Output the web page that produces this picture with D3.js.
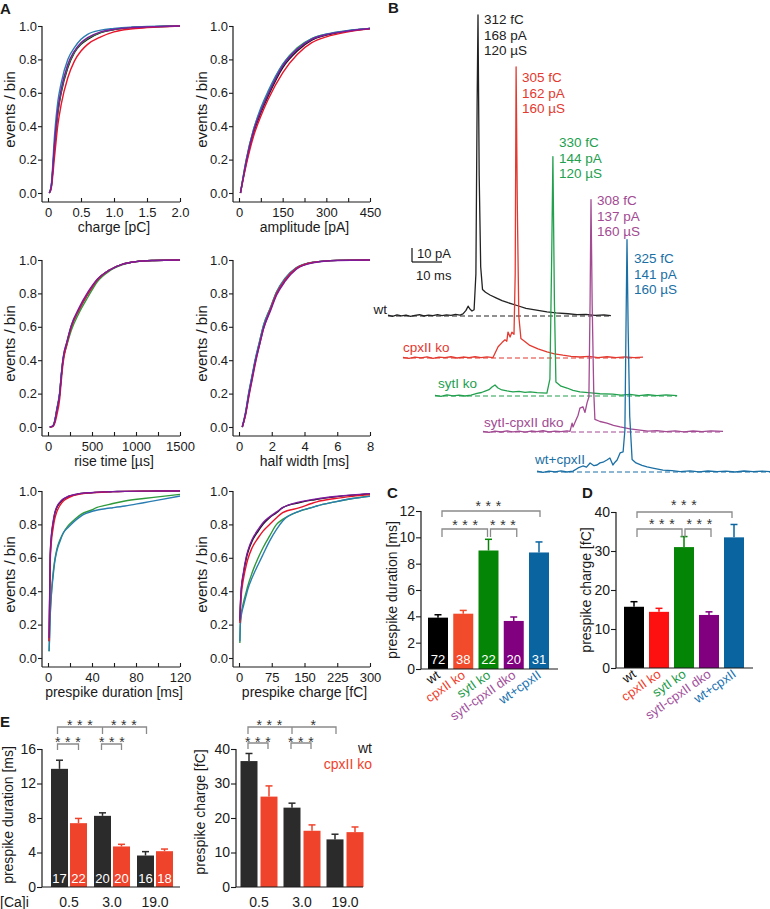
<!DOCTYPE html>
<html><head><meta charset="utf-8">
<script src="https://cdn.jsdelivr.net/npm/d3@7"></script>
<style>
body{margin:0;background:#fff}
svg{display:block}
</style>
</head><body>
<svg id="fig" width="770" height="909"></svg>
<script>
// ===================== DATA =====================
const genotypes = ["wt", "cpxII ko", "sytI ko", "sytI-cpxII dko", "wt+cpxII"];

// ---- Panel A: cumulative distributions (rows follow genotypes order) ----
const chargeX = [0.02, 0.05, 0.1, 0.15, 0.2, 0.3, 0.4, 0.5, 0.6, 0.8, 1.0, 1.25, 1.5, 2.0];
const chargeCdf = [
  [0, 0.04, 0.28, 0.48, 0.60, 0.75, 0.84, 0.89, 0.92, 0.96, 0.978, 0.99, 0.995, 1.0],
  [0, 0.03, 0.22, 0.41, 0.53, 0.69, 0.79, 0.85, 0.89, 0.935, 0.965, 0.982, 0.99, 1.0],
  [0, 0.04, 0.29, 0.49, 0.61, 0.76, 0.845, 0.895, 0.925, 0.962, 0.979, 0.99, 0.995, 1.0],
  [0, 0.04, 0.30, 0.50, 0.62, 0.77, 0.85, 0.90, 0.93, 0.965, 0.98, 0.99, 0.995, 1.0],
  [0, 0.05, 0.35, 0.55, 0.66, 0.80, 0.87, 0.92, 0.95, 0.975, 0.985, 0.993, 0.997, 1.0]
];
const ampX = [5, 25, 50, 75, 100, 150, 200, 250, 300, 375, 450];
const ampCdf = [
  [0, 0.18, 0.36, 0.48, 0.58, 0.75, 0.85, 0.915, 0.945, 0.97, 0.985],
  [0, 0.17, 0.34, 0.46, 0.56, 0.72, 0.83, 0.90, 0.935, 0.965, 0.983],
  [0, 0.20, 0.38, 0.50, 0.60, 0.77, 0.87, 0.925, 0.95, 0.972, 0.986],
  [0, 0.19, 0.37, 0.49, 0.59, 0.76, 0.86, 0.92, 0.948, 0.97, 0.985],
  [0, 0.20, 0.38, 0.51, 0.61, 0.77, 0.865, 0.925, 0.952, 0.973, 0.985]
];
const riseX = [20, 55, 75, 100, 133, 150, 171, 215, 266, 350, 456, 560, 700, 850, 1000, 1200, 1500];
const riseCdf = [
  [0, 0.005, 0.03, 0.10, 0.20, 0.30, 0.40, 0.50, 0.60, 0.70, 0.80, 0.88, 0.94, 0.975, 0.99, 0.997, 1.0],
  [0, 0.003, 0.02, 0.07, 0.17, 0.27, 0.38, 0.50, 0.60, 0.70, 0.80, 0.88, 0.94, 0.975, 0.99, 0.997, 1.0],
  [0, 0.005, 0.03, 0.10, 0.20, 0.30, 0.40, 0.49, 0.58, 0.68, 0.78, 0.87, 0.935, 0.972, 0.99, 0.997, 1.0],
  [0, 0.005, 0.03, 0.10, 0.20, 0.30, 0.41, 0.51, 0.61, 0.71, 0.81, 0.885, 0.94, 0.975, 0.99, 0.997, 1.0],
  [0, 0.006, 0.035, 0.11, 0.21, 0.31, 0.41, 0.51, 0.61, 0.70, 0.80, 0.88, 0.94, 0.975, 0.99, 0.997, 1.0]
];
const halfX = [0.2, 0.4, 0.6, 0.8, 1.0, 1.25, 1.5, 1.9, 2.3, 2.8, 3.5, 4.5, 6, 8];
const halfCdf = [
  [0, 0.08, 0.20, 0.30, 0.40, 0.50, 0.60, 0.70, 0.80, 0.88, 0.95, 0.985, 0.998, 1.0],
  [0, 0.07, 0.18, 0.28, 0.38, 0.49, 0.59, 0.70, 0.80, 0.88, 0.95, 0.985, 0.998, 1.0],
  [0, 0.08, 0.20, 0.30, 0.40, 0.51, 0.61, 0.71, 0.81, 0.885, 0.952, 0.986, 0.998, 1.0],
  [0, 0.08, 0.19, 0.29, 0.39, 0.49, 0.59, 0.69, 0.79, 0.87, 0.945, 0.983, 0.997, 1.0],
  [0, 0.09, 0.21, 0.31, 0.41, 0.51, 0.61, 0.71, 0.81, 0.89, 0.955, 0.987, 0.998, 1.0]
];
const durX = [1, 1.5, 2, 3, 4.5, 6, 8, 11, 14, 18, 21, 26, 30, 41, 44, 53, 59, 70, 87, 100, 120];
const durCdf = [
  [0.10, 0.35, 0.60, 0.72, 0.80, 0.86, 0.90, 0.93, 0.95, 0.965, 0.972, 0.98, 0.985, 0.99, 0.992, 0.995, 0.996, 0.998, 0.999, 1.0, 1.0],
  [0.10, 0.33, 0.57, 0.69, 0.77, 0.83, 0.875, 0.915, 0.94, 0.958, 0.967, 0.977, 0.983, 0.99, 0.991, 0.994, 0.996, 0.998, 0.999, 1.0, 1.0],
  [0.04, 0.15, 0.26, 0.38, 0.50, 0.58, 0.65, 0.71, 0.75, 0.79, 0.81, 0.84, 0.86, 0.89, 0.90, 0.915, 0.925, 0.94, 0.955, 0.965, 0.98],
  [0.12, 0.37, 0.61, 0.73, 0.81, 0.865, 0.905, 0.935, 0.953, 0.967, 0.974, 0.981, 0.986, 0.991, 0.993, 0.995, 0.996, 0.998, 0.999, 1.0, 1.0],
  [0.04, 0.14, 0.25, 0.37, 0.48, 0.57, 0.64, 0.70, 0.75, 0.78, 0.80, 0.83, 0.85, 0.88, 0.885, 0.895, 0.90, 0.91, 0.93, 0.945, 0.97]
];
const pchX = [2, 3, 5, 10, 17, 20, 30, 44, 55, 70, 86, 100, 139, 166, 178, 220, 260, 300];
const pchCdf = [
  [0.22, 0.30, 0.40, 0.50, 0.60, 0.63, 0.70, 0.76, 0.80, 0.84, 0.87, 0.90, 0.93, 0.945, 0.95, 0.965, 0.975, 0.982],
  [0.21, 0.28, 0.37, 0.47, 0.56, 0.59, 0.66, 0.72, 0.76, 0.80, 0.84, 0.87, 0.90, 0.925, 0.935, 0.955, 0.968, 0.978],
  [0.09, 0.20, 0.26, 0.33, 0.40, 0.43, 0.51, 0.60, 0.66, 0.73, 0.80, 0.83, 0.88, 0.90, 0.91, 0.935, 0.955, 0.97],
  [0.23, 0.31, 0.41, 0.51, 0.61, 0.64, 0.71, 0.77, 0.81, 0.845, 0.875, 0.90, 0.935, 0.948, 0.953, 0.967, 0.977, 0.984],
  [0.10, 0.20, 0.25, 0.31, 0.38, 0.41, 0.48, 0.56, 0.62, 0.70, 0.77, 0.82, 0.88, 0.90, 0.91, 0.935, 0.955, 0.968]
];
const cdfYTicks = [0, 0.2, 0.4, 0.6, 0.8, 1.0];
const chargeTicks = [0, 0.5, 1.0, 1.5, 2.0];
const ampTicks = [0, 75, 150, 225, 300, 375, 450], ampLabels = [0, 150, 300, 450];
const riseTicks = [0, 250, 500, 750, 1000, 1250, 1500], riseLabels = [0, 500, 1000, 1500];
const halfTicks = [0, 2, 4, 6, 8];
const durTicks = [0, 20, 40, 60, 80, 100, 120], durLabels = [0, 40, 80, 120];
const pchTicks = [0, 75, 150, 225, 300];

// ---- Panel B: example traces, [time ms, current pA] ----
const traceWt = [[0,0.6],[1.5,-0.2],[3,0.8],[4.5,0.1],[6,0.7],[7.5,-0.3],[9,0.5],[10.5,0.9],[12,0],[13.5,0.6],[15,0.3],[16.5,1.0],[18,0.2],[19.5,0.8],[21,0.4],[22.5,1.1],[24,0.6],[25,1.5],[26,4],[26.7,7],[27.3,5],[28,3.6],[28.7,4.5],[29.3,30],[29.7,150],[30,215],[30.4,100],[30.9,35],[31.5,19],[32.5,17],[34,15],[36,13],[38,11],[40,9.5],[43,7.5],[46,5.5],[50,4],[53,3],[56,2.2],[60,1.6],[63,1],[66,1.2],[69,0.5],[72,0.8],[74.3,0.3]];
const traceCpx = [[0,0.5],[2,-0.3],[4,0.7],[6,0.1],[8,0.8],[10,-0.2],[12,0.6],[14,0.2],[16,0.9],[18,0],[20,0.7],[22,0.3],[24,0.9],[26,0.2],[28,0.8],[30,0.3],[31.7,8],[33,11],[34,13],[34.6,12],[35,18.5],[35.7,15],[36.3,18.5],[37,17],[37.4,60],[37.7,208],[38.1,110],[38.6,30],[39.3,14],[40.5,12],[42.3,9],[45,6.5],[48,4.3],[50.5,3],[53.3,2],[56,1.2],[59,0.7],[62,1.1],[65,0.3],[68,0.9],[71,0.2],[74,0.8],[77,0.3],[80,0.6]];
const traceSyt = [[0,0.5],[2,-0.2],[4,0.8],[6,0.1],[8,0.6],[10,0],[12,0.7],[14,1.8],[15.5,2.5],[16.7,3.5],[18,4.5],[19,6.4],[20,7.9],[21,5.7],[22.3,4.3],[24,3.6],[26,2.9],[28,3.3],[30,2.6],[31.7,2.9],[34,2.4],[37.3,2.1],[38.3,12],[38.9,100],[39.3,171],[39.8,68],[40.3,10],[42,7],[44,5.7],[46,4],[48.3,2.9],[52,2.2],[55,1.6],[59.3,1.4],[62,0.6],[65,1.1],[68,0.3],[71,0.9],[74,0.2],[77,0.8],[80.7,0.3]];
const traceDko = [[0,0.5],[2,-0.2],[4,0.7],[6,0],[8,0.8],[10,0.1],[12,0.6],[14,-0.1],[16,0.7],[18,0.2],[20,0.9],[22,0.1],[24,0.6],[26,0.2],[28,0.8],[29,0.5],[29.7,6.4],[30,3.6],[31,8.6],[31.7,12],[32.3,17],[33.3,18],[34,14],[34.7,21],[35.3,25],[35.7,94],[36,166],[36.4,90],[36.9,30],[37.3,9],[39,7.5],[41.3,6.4],[43.5,4.8],[45.7,3.6],[49,2.3],[52.3,1.4],[55,0.6],[58,1],[61,0.3],[64,0.8],[67,0.1],[70,0.7],[73,0.2],[76,0.8],[80,0.4]];
const traceWtCpx = [[0,0.6],[2,-0.2],[4,0.7],[6,0.1],[8,0.8],[10,0],[12,0.6],[13.7,2.9],[15.3,4.3],[16.5,3.5],[17.7,6.4],[19,4.5],[20,5],[21,6.5],[22,7],[23.3,8.6],[24.3,10],[25.3,5],[26,7],[26.7,8.6],[27.7,13.6],[28.7,14.3],[29.3,30],[29.7,110],[30,166],[30.4,100],[30.9,40],[31.7,9],[33,6.5],[35,4.8],[36.7,3.6],[39,2.6],[42,1.4],[45,1],[47.7,0.3],[51,0.8],[54,0.1],[57,0.7],[60,0.2],[63,0.6],[66,0],[69,0.7],[72,0.2],[75,0.6],[77.7,0.3]];
const spikeInfo = [
  ["312 fC", "168 pA", "120 µS"],
  ["305 fC", "162 pA", "160 µS"],
  ["330 fC", "144 pA", "120 µS"],
  ["308 fC", "137 pA", "160 µS"],
  ["325 fC", "141 pA", "160 µS"]
];

// ---- Panels C, D ----
const durMean = [3.9, 4.2, 9.0, 3.65, 8.85];
const durSem = [0.22, 0.25, 0.85, 0.3, 0.8];
const chgMean = [15.7, 14.4, 31.0, 13.6, 33.5];
const chgSem = [1.3, 0.9, 2.7, 0.8, 3.3];
const cellCounts = [72, 38, 22, 20, 31];
const cTicks = [0, 2, 4, 6, 8, 10, 12];
const dTicks = [0, 10, 20, 30, 40];

// ---- Panel E ----
const caLevels = ["0.5", "3.0", "19.0"];
const eDurWt = [13.7, 8.25, 3.65], eDurWtSem = [1.0, 0.35, 0.45];
const eDurKo = [7.4, 4.7, 4.15], eDurKoSem = [0.55, 0.25, 0.25];
const eChgWt = [36.5, 23.0, 13.8], eChgWtSem = [2.2, 1.3, 1.5];
const eChgKo = [26.2, 16.3, 15.9], eChgKoSem = [3.1, 1.7, 1.5];
const eCountWt = [17, 20, 16], eCountKo = [22, 20, 18];
const eDurTicks = [0, 4, 8, 12, 16];
const eChgTicks = [0, 10, 20, 30, 40];

// ===================== DRAWING =====================
const FONT = '"Liberation Sans", Arial, Helvetica, sans-serif';
const svg = d3.select("#fig").attr("font-family", FONT);
const AX = "#1a1a1a";

function txt(x, y, s, size, opts = {}) {
  const t = svg.append("text").attr("x", x).attr("y", y).text(s)
    .attr("font-size", size).attr("fill", opts.fill || "#1a1a1a")
    .attr("text-anchor", opts.anchor || "start");
  if (opts.weight) t.attr("font-weight", opts.weight);
  if (opts.rotate !== undefined) t.attr("transform", `rotate(${opts.rotate},${x},${y})`);
  return t;
}
function vline(x, y1, y2, col = AX, w = 1.2) {
  svg.append("line").attr("x1", x).attr("x2", x).attr("y1", y1).attr("y2", y2)
    .attr("stroke", col).attr("stroke-width", w);
}
function hline(x1, x2, y, col = AX, w = 1.2) {
  svg.append("line").attr("x1", x1).attr("x2", x2).attr("y1", y).attr("y2", y)
    .attr("stroke", col).attr("stroke-width", w);
}
function styleAxis(g, size) {
  g.attr("font-size", size).attr("font-family", FONT);
  g.select(".domain").remove();
  g.selectAll(".tick line").attr("stroke", AX).attr("stroke-width", 1.1);
  g.selectAll(".tick text").attr("fill", "#1a1a1a");
}

// ---------- Panel A ----------
const cdfColors = ["#151515", "#e8142a", "#2f9a3a", "#7d1b9c", "#2a7db2"];
const drawOrder = [0, 2, 4, 1, 3];
const cols = [{ ax: 42, x0: 48, x1: 180, title: 15 }, { ax: 233, x0: 239, x1: 370, title: 207 }];
const rows = [{ y1: 26, y0: 193, axY: 202 }, { y1: 260, y0: 427, axY: 436 }, { y1: 491, y0: 658, axY: 667 }];
const fmt1 = d3.format(".1f");
const cdfPanels = [
  { c: 0, r: 0, max: 2, ticks: chargeTicks, labels: chargeTicks, fmt: d => d === 0 ? "0" : fmt1(d), title: "charge [pC]", xs: chargeX, ys: chargeCdf },
  { c: 1, r: 0, max: 450, ticks: ampTicks, labels: ampLabels, fmt: d3.format("d"), title: "amplitude [pA]", xs: ampX, ys: ampCdf },
  { c: 0, r: 1, max: 1500, ticks: riseTicks, labels: riseLabels, fmt: d3.format("d"), title: "rise time [µs]", xs: riseX, ys: riseCdf },
  { c: 1, r: 1, max: 8, ticks: halfTicks, labels: halfTicks, fmt: d3.format("d"), title: "half width [ms]", xs: halfX, ys: halfCdf },
  { c: 0, r: 2, max: 120, ticks: durTicks, labels: durLabels, fmt: d3.format("d"), title: "prespike duration [ms]", xs: durX, ys: durCdf },
  { c: 1, r: 2, max: 300, ticks: pchTicks, labels: pchTicks, fmt: d3.format("d"), title: "prespike charge [fC]", xs: pchX, ys: pchCdf }
];
cdfPanels.forEach(p => {
  const c = cols[p.c], r = rows[p.r];
  const x = d3.scaleLinear().domain([0, p.max]).range([c.x0, c.x1]);
  const y = d3.scaleLinear().domain([0, 1]).range([r.y0, r.y1]);
  const line = d3.line().x(d => x(d[0])).y(d => y(d[1])).curve(d3.curveMonotoneX);
  drawOrder.forEach(k => {
    const pts = p.xs.map((v, i) => [v, p.ys[k][i]]);
    svg.append("path").attr("d", line(pts)).attr("fill", "none")
      .attr("stroke", cdfColors[k]).attr("stroke-width", 1.4);
  });
  const ya = svg.append("g").attr("transform", `translate(${c.ax},0)`)
    .call(d3.axisLeft(y).tickValues(cdfYTicks).tickFormat(fmt1).tickSize(4).tickPadding(1));
  styleAxis(ya, 13);
  const xa = svg.append("g").attr("transform", `translate(0,${r.axY})`)
    .call(d3.axisBottom(x).tickValues(p.ticks).tickFormat(d => p.labels.includes(d) ? p.fmt(d) : "")
      .tickSizeInner(-4).tickSizeOuter(0).tickPadding(6));
  styleAxis(xa, 13);
  vline(c.ax, r.y1, r.axY);
  hline(c.ax, c.x1, r.axY);
  txt((c.x0 + c.x1) / 2, r.axY + 30, p.title, 14, { anchor: "middle" });
  txt(c.title, (r.y0 + r.y1) / 2, "events / bin", 15, { anchor: "middle", rotate: -90 });
});
txt(0, 14, "A", 15, { weight: "bold" });

// ---------- Panel B ----------
txt(388, 13, "B", 15, { weight: "bold" });
const traceColors = ["#222222", "#e3392f", "#22a04e", "#a24a92", "#1a6fa5"];
const traceData = [traceWt, traceCpx, traceSyt, traceDko, traceWtCpx];
const traceOrigin = [[388, 316], [403, 358], [435, 396], [483, 432], [537, 472]];
const nameAnchor = [[387, 314, "end"], [403, 352, "start"], [438, 388, "start"], [484, 427, "start"], [535, 464, "start"]];
const infoPos = [[484, 24], [522, 82], [559, 147], [597, 205], [634, 263]];
traceData.forEach((tr, k) => {
  const [ox, oy] = traceOrigin[k];
  const x = d3.scaleLinear().domain([0, 10]).range([ox, ox + 30]);
  const y = d3.scaleLinear().domain([0, 10]).range([oy, oy - 14]);
  const tEnd = tr[tr.length - 1][0];
  svg.append("line").attr("x1", x(0)).attr("x2", x(tEnd)).attr("y1", y(0)).attr("y2", y(0))
    .attr("stroke", traceColors[k]).attr("stroke-width", 1.2).attr("stroke-dasharray", "5,3");
  svg.append("path").attr("d", d3.line().x(d => x(d[0])).y(d => y(d[1]))(tr))
    .attr("fill", "none").attr("stroke", traceColors[k]).attr("stroke-width", 1.3)
    .attr("stroke-linejoin", "round");
  const [nx, ny, na] = nameAnchor[k];
  txt(nx, ny, genotypes[k], 13.5, { fill: traceColors[k], anchor: na });
  spikeInfo[k].forEach((s, i) => txt(infoPos[k][0], infoPos[k][1] + i * 15.5, s, 13.5, { fill: traceColors[k] }));
});
// scale bar (same scale as traces)
{
  const x = d3.scaleLinear().domain([0, 10]).range([412, 442]);
  const y = d3.scaleLinear().domain([0, 10]).range([262, 248]);
  vline(x(0), y(0), y(10), "#111", 1.2);
  hline(x(0), x(10), y(0), "#111", 1.2);
  txt(417, 258, "10 pA", 13, {});
  txt(416, 280, "10 ms", 13, {});
}

// ---------- Bars helper ----------
function errBar(cx, top, errTop, col, cap) {
  vline(cx, top, errTop, col, 1.5);
  hline(cx - cap, cx + cap, errTop, col, 1.5);
}
function bracket(x1, x2, y, drop, col = "#8a8a8a") {
  svg.append("path").attr("d", `M${x1},${y + drop}V${y}H${x2}V${y + drop}`)
    .attr("fill", "none").attr("stroke", col).attr("stroke-width", 1.3);
}
function stars(x, cy, s) {
  txt(x, cy + 8, s, 14, { anchor: "middle", fill: "#333" }).attr("letter-spacing", 0.4);
}

// ---------- Panels C & D ----------
const barColorsC = ["#000000", "#f14b2c", "#058505", "#800080", "#0a64a0"];
const barColorsD = ["#000000", "#ff1010", "#058505", "#800080", "#0a64a0"];
const labelColors = ["#111111", "#ef402c", "#1c9a48", "#a2509c", "#1a72b0"];
function genoBars(o) {
  const x = d3.scalePoint().domain(genotypes).range([o.c0, o.c1]);
  const y = d3.scaleLinear().domain([0, o.max]).range([o.y0, o.y1]);
  genotypes.forEach((g, i) => {
    const cx = x(g);
    errBar(cx, y(o.mean[i]), y(o.mean[i] + o.sem[i]), o.colors[i], 3.5);
    svg.append("rect").attr("x", cx - 10).attr("width", 20)
      .attr("y", y(o.mean[i])).attr("height", y(0) - y(o.mean[i])).attr("fill", o.colors[i]);
    if (o.counts) txt(cx, o.y0 - 5, o.counts[i], 13, { anchor: "middle", fill: "#fff" });
    txt(cx + 3, o.y0 + 8, g, 13, { anchor: "end", fill: labelColors[i], rotate: -35 });
  });
  const ya = svg.append("g").attr("transform", `translate(${o.ax},0)`)
    .call(d3.axisLeft(y).tickValues(o.ticks).tickSize(5).tickPadding(1));
  styleAxis(ya, 14);
  vline(o.ax, o.y1, o.y0);
  hline(o.ax, o.xEnd, o.y0);
  txt(o.titleX, (o.y0 + o.y1) / 2, o.title, 14, { anchor: "middle", rotate: -90 });
  return x;
}
const xC = genoBars({ c0: 438, c1: 539, y0: 669, y1: 511, max: 12, mean: durMean, sem: durSem, colors: barColorsC,
  counts: cellCounts, ticks: cTicks, ax: 421, xEnd: 558, titleX: 397, title: "prespike duration [ms]" });
const xD = genoBars({ c0: 634, c1: 734, y0: 668, y1: 512, max: 40, mean: chgMean, sem: chgSem, colors: barColorsD,
  counts: null, ticks: dTicks, ax: 616, xEnd: 753, titleX: 591, title: "prespike charge [fC]" });
txt(387, 498, "C", 15, { weight: "bold" });
txt(582, 498, "D", 15, { weight: "bold" });
// significance C
bracket(xC(genotypes[0]) + 4, xC(genotypes[4]) + 1, 511, 6);
stars((xC(genotypes[0]) + xC(genotypes[4])) / 2, 503, "* * *");
bracket(xC(genotypes[0]) + 4, xC(genotypes[2]) - 1, 529, 8);
bracket(xC(genotypes[2]) + 2, xC(genotypes[3]) + 3, 529, 8);
stars((xC(genotypes[0]) + xC(genotypes[2])) / 2 + 2, 522, "* * *");
stars((xC(genotypes[2]) + xC(genotypes[3])) / 2 + 2, 522, "* * *");
// significance D
bracket(xD(genotypes[0]) + 3, xD(genotypes[4]) - 2, 512, 6);
stars((xD(genotypes[0]) + xD(genotypes[4])) / 2, 502, "* * *");
bracket(xD(genotypes[0]) + 3, xD(genotypes[2]) - 2, 529, 8);
bracket(xD(genotypes[2]) + 1, xD(genotypes[3]) + 2, 529, 8);
stars((xD(genotypes[0]) + xD(genotypes[2])) / 2 + 3, 521, "* * *");
stars((xD(genotypes[2]) + xD(genotypes[3])) / 2 + 3, 521, "* * *");

// ---------- Panel E ----------
const eWtColor = "#2b2b2b", eKoColor = "#f0432b";
function caBars(o) {
  const x = d3.scalePoint().domain(caLevels).range([o.c0, o.c1]);
  const y = d3.scaleLinear().domain([0, o.max]).range([887, 749]);
  caLevels.forEach((c, i) => {
    const groups = [[x(c) - o.off, o.wt[i], o.wtSem[i], eWtColor, eCountWt[i]],
                    [x(c) + o.off, o.ko[i], o.koSem[i], eKoColor, eCountKo[i]]];
    groups.forEach(([cx, m, s, col, n]) => {
      errBar(cx, y(m), y(m + s), col, 3.5);
      svg.append("rect").attr("x", cx - 8.5).attr("width", 17).attr("y", y(m))
        .attr("height", y(0) - y(m)).attr("fill", col);
      if (o.counts) txt(cx, 883, n, 13, { anchor: "middle", fill: "#fff" });
    });
    txt(x(c), 907, c, 14, { anchor: "middle" });
  });
  const ya = svg.append("g").attr("transform", `translate(${o.ax},0)`)
    .call(d3.axisLeft(y).tickValues(o.ticks).tickSize(5).tickPadding(1));
  styleAxis(ya, 14);
  vline(o.ax, 749, 887);
  hline(o.ax, o.xEnd, 887);
  txt(o.titleX, o.titleY, o.title, 14, { anchor: "middle", rotate: -90 });
  return c => x(c);
}
const xE1 = caBars({ c0: 69, c1: 155, off: 9.5, max: 16, wt: eDurWt, wtSem: eDurWtSem, ko: eDurKo, koSem: eDurKoSem,
  counts: true, ticks: eDurTicks, ax: 42, xEnd: 180, titleX: 13, titleY: 815, title: "prespike duration [ms]" });
const xE2 = caBars({ c0: 259, c1: 345, off: 10, max: 40, wt: eChgWt, wtSem: eChgWtSem, ko: eChgKo, koSem: eChgKoSem,
  counts: false, ticks: eChgTicks, ax: 236, xEnd: 363, titleX: 205, titleY: 812, title: "prespike charge [fC]" });
txt(0, 727, "E", 15, { weight: "bold" });
txt(0, 907, "[Ca]i", 14, {});
// E left significance
{
  const w = c => xE1(c) - 9.5, k = c => xE1(c) + 9.5;
  bracket(w("0.5") - 2, k("0.5"), 744, 6);
  bracket(w("3.0") - 1, k("3.0"), 744, 6);
  stars((w("0.5") + k("0.5")) / 2 - 1, 739, "* * *");
  stars((w("3.0") + k("3.0")) / 2, 739, "* * *");
  bracket(w("0.5") - 2, w("19.0") + 1, 727, 7);
  vline(w("3.0"), 727, 734, "#8a8a8a", 1.3);
  stars((w("0.5") + w("3.0")) / 2 - 1, 722, "* * *");
  stars((w("3.0") + w("19.0")) / 2, 722, "* * *");
}
// E right significance
{
  const w = c => xE2(c) - 10, k = c => xE2(c) + 10;
  bracket(w("0.5") - 1, k("0.5") - 1, 743, 6);
  bracket(w("3.0") - 1, k("3.0") - 1, 743, 6);
  stars((w("0.5") + k("0.5")) / 2 - 1, 739, "* * *");
  stars((w("3.0") + k("3.0")) / 2 - 1, 739, "* * *");
  bracket(w("0.5") - 1, w("19.0") + 1, 727, 7);
  vline(w("3.0"), 727, 734, "#8a8a8a", 1.3);
  stars((w("0.5") + w("3.0")) / 2 - 1, 722, "* * *");
  stars((w("3.0") + w("19.0")) / 2, 722, "*");
}
txt(372, 753, "wt", 14, { anchor: "end" });
txt(372, 769, "cpxII ko", 14, { anchor: "end", fill: eKoColor });
</script>
</body></html>
